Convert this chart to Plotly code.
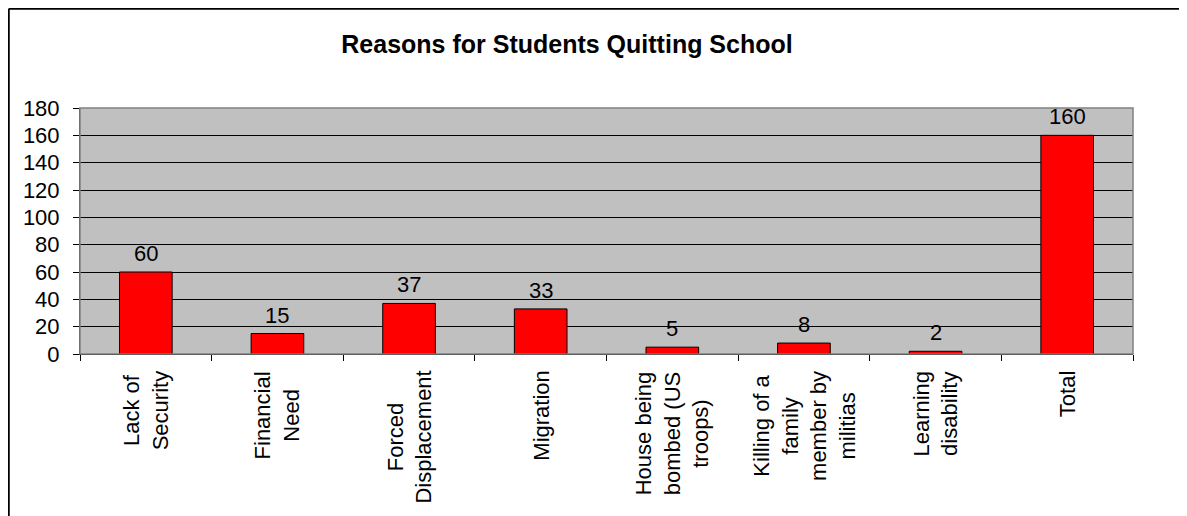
import plotly.graph_objects as go

categories = ["Lack of<br>Security", "Financial<br>Need", "Forced<br>Displacement", "Migration",
              "House being<br>bombed (US<br>troops)", "Killing of a<br>family<br>member by<br>militias",
              "Learning<br>disability", "Total"]
values = [60, 15, 37, 33, 5, 8, 2, 160]
y_ticks = [0, 20, 40, 60, 80, 100, 120, 140, 160, 180]
title_text = "Reasons for Students Quitting School"

FONT = "Arial, Liberation Sans, sans-serif"
OFF = 8  # page body margin
W, H = 1187 - OFF, 516 - OFF
ML, MT = 80 - OFF, 108 - OFF
PR, PB = 1133 - OFF, 354 - OFF
MR, MB = W - PR, H - PB
PW, PH = PR - ML, PB - MT

def px_x(px):
    return (px - OFF - ML) / PW

def px_y(py):
    return (PB - (py - OFF)) / PH

fig = go.Figure()
fig.add_trace(go.Bar(
    x=list(range(len(categories))), y=values,
    marker=dict(color="#FF0000", line=dict(color="#000000", width=1)),
    hoverinfo="skip",
))

annotations = []
for i, (c, v) in enumerate(zip(categories, values)):
    annotations.append(dict(x=i, y=v, xref="x", yref="y", text=str(v), showarrow=False,
                            yanchor="bottom", yshift=4, font=dict(family=FONT, size=22, color="#000")))
    annotations.append(dict(x=i, y=0, xref="x", yref="paper", text=c, showarrow=False,
                            textangle=-90, yanchor="top", xanchor="center", align="center",
                            yshift=-15, font=dict(family=FONT, size=22, color="#000")))

frame_top = px_y(OFF + 0.75)
frame_left = px_x(OFF + 0.75)
shapes = [
    dict(type="rect", xref="paper", yref="paper", x0=0, x1=1, y0=0, y1=1,
         line=dict(color="#808080", width=1.5), layer="above"),
    dict(type="line", xref="paper", yref="paper", x0=frame_left, x1=px_x(1187 + 20), y0=frame_top, y1=frame_top,
         line=dict(color="#000", width=2)),
    dict(type="line", xref="paper", yref="paper", x0=frame_left, x1=frame_left, y0=frame_top, y1=px_y(516 + 20),
         line=dict(color="#000", width=2)),
]

fig.update_layout(
    width=W, height=H,
    margin=dict(l=ML, r=MR, t=MT, b=MB, pad=0),
    paper_bgcolor="#FFFFFF", plot_bgcolor="#C0C0C0",
    showlegend=False, bargap=0.6,
    title=dict(text="<b>" + title_text + "</b>", x=px_x(567), xref="paper", xanchor="center",
               y=1 - (44 - OFF) / H, yref="container", yanchor="middle",
               font=dict(family=FONT, size=25, color="#000")),
    font=dict(family=FONT, size=22, color="#000"),
    annotations=annotations, shapes=shapes,
)
fig.update_xaxes(type="linear", range=[-0.5, len(categories) - 0.5], showticklabels=False,
                 tickvals=[i - 0.5 for i in range(len(categories) + 1)],
                 ticks="outside", ticklen=6, tickcolor="#000", showgrid=False,
                 showline=True, linecolor="#000", linewidth=1, zeroline=False)
fig.update_yaxes(range=[0, 180], tickvals=y_ticks, ticks="outside", ticklen=6, tickcolor="#000",
                 showgrid=True, gridcolor="#000", gridwidth=1, showline=True, linecolor="#404040",
                 linewidth=1, zeroline=False, ticklabelstandoff=9,
                 tickfont=dict(family=FONT, size=22, color="#000"))

fig.write_html("out.html")
